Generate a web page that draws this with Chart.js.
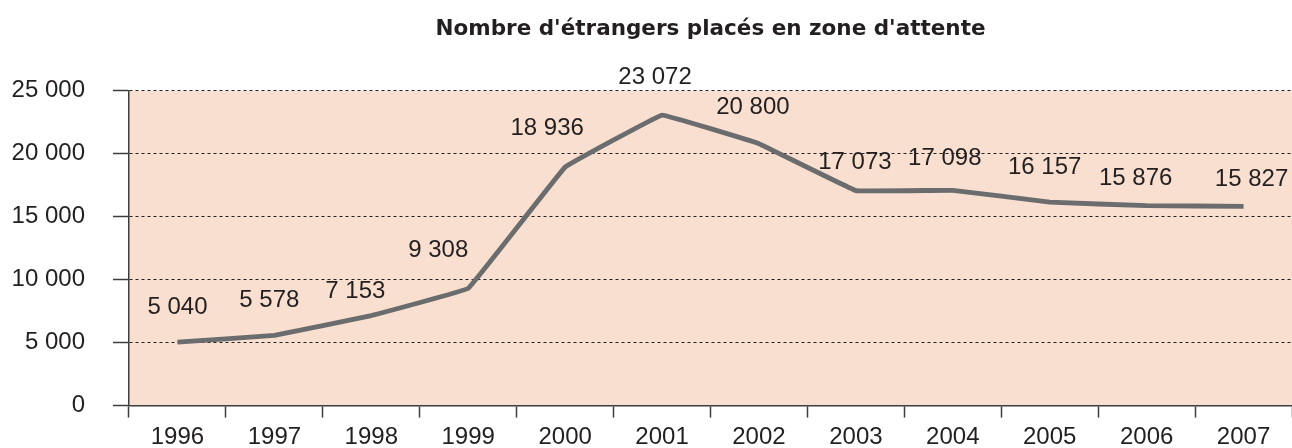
<!DOCTYPE html>
<html>
<head>
<meta charset="utf-8">
<script src="https://cdn.jsdelivr.net/npm/chart.js@4"></script>
<style>
html,body{margin:0;padding:0;background:#fff;}
#wrap{width:1292px;height:448px;}
</style>
</head>
<body>
<div id="wrap"><canvas id="c" width="1292" height="448"></canvas></div>
<script>
const titleText = "Nombre d'étrangers placés en zone d'attente";
const years = ["1996","1997","1998","1999","2000","2001","2002","2003","2004","2005","2006","2007"];
const values = [5040, 5578, 7153, 9308, 18936, 23072, 20800, 17073, 17098, 16157, 15876, 15827];
const yTicks = [0, 5000, 10000, 15000, 20000, 25000];

// label placement offsets (style), relative to each point
const labelOffsetX = [0, -5, -16, -30, -18, -7, -6, -1, -8, -5, -11, 8];
const labelOffsetY = [-35, -35, -24, -38, -39, -38, -36, -28, -32, -35, -27, -27];

function fmt(v){ return String(v).replace(/\B(?=(\d{3})+(?!\d))/g, ' '); }

const TEXT = '#231f20';
const FONT = "'Liberation Sans', Arial, sans-serif";

const bgPlugin = {
  id: 'bg',
  beforeDraw(chart){
    const a = chart.chartArea, ctx = chart.ctx;
    ctx.save();
    ctx.fillStyle = '#f8dfcf';
    ctx.fillRect(a.left, a.top, a.right - a.left, a.bottom - a.top);
    ctx.restore();
  }
};

const labelPlugin = {
  id: 'vlabels',
  afterDatasetsDraw(chart){
    const ctx = chart.ctx;
    const meta = chart.getDatasetMeta(0);
    ctx.save();
    ctx.font = "24px " + FONT;
    ctx.fillStyle = TEXT;
    ctx.textAlign = 'center';
    ctx.textBaseline = 'middle';
    meta.data.forEach((pt, i) => {
      ctx.fillText(fmt(values[i]), pt.x + labelOffsetX[i], pt.y + labelOffsetY[i]);
    });
    ctx.restore();
  }
};

new Chart(document.getElementById('c'), {
  type: 'line',
  data: {
    labels: years,
    datasets: [{
      data: values,
      borderColor: '#6b6c6e',
      borderWidth: 4.8,
      pointRadius: 0,
      tension: 0.04,
      borderJoinStyle: 'round',
      borderCapStyle: 'butt',
      fill: false
    }]
  },
  options: {
    responsive: false,
    animation: false,
    devicePixelRatio: 1,
    layout: { padding: { left: 0, right: 0, top: 0, bottom: 0 } },
    plugins: {
      legend: { display: false },
      tooltip: { enabled: false },
      title: {
        display: true,
        text: titleText,
        fullSize: false,
        color: TEXT,
        font: { family: "'DejaVu Sans', sans-serif", size: 21.5, weight: 'bold', lineHeight: 1.2 },
        padding: { top: 17, bottom: 48 }
      }
    },
    scales: {
      x: {
        offset: true,
        grid: {
          display: true,
          offset: true,
          drawOnChartArea: false,
          drawTicks: true,
          tickLength: 12,
          tickColor: '#3d3d3d',
          tickWidth: 1.5
        },
        border: { display: true, color: '#3d3d3d', width: 1.5 },
        ticks: {
          color: TEXT,
          font: { family: FONT, size: 24 },
          padding: 5,
          maxRotation: 0,
          autoSkip: false
        },
        afterFit(scale){ scale.height = 40; }
      },
      y: {
        min: 0,
        max: 25000,
        afterBuildTicks(scale){ scale.ticks = yTicks.map(v => ({ value: v })); },
        grid: {
          color: '#222222',
          lineWidth: 1,
          drawTicks: true,
          tickLength: 16,
          tickColor: '#3d3d3d',
          tickWidth: 1.5
        },
        border: { display: true, color: '#3d3d3d', width: 1.5, dash: [3, 3] },
        ticks: {
          color: TEXT,
          font: { family: FONT, size: 24 },
          padding: 28,
          callback: (v) => fmt(v)
        },
        afterFit(scale){ scale.width = 129; }
      }
    }
  },
  plugins: [bgPlugin, labelPlugin]
});
</script>
</body>
</html>
